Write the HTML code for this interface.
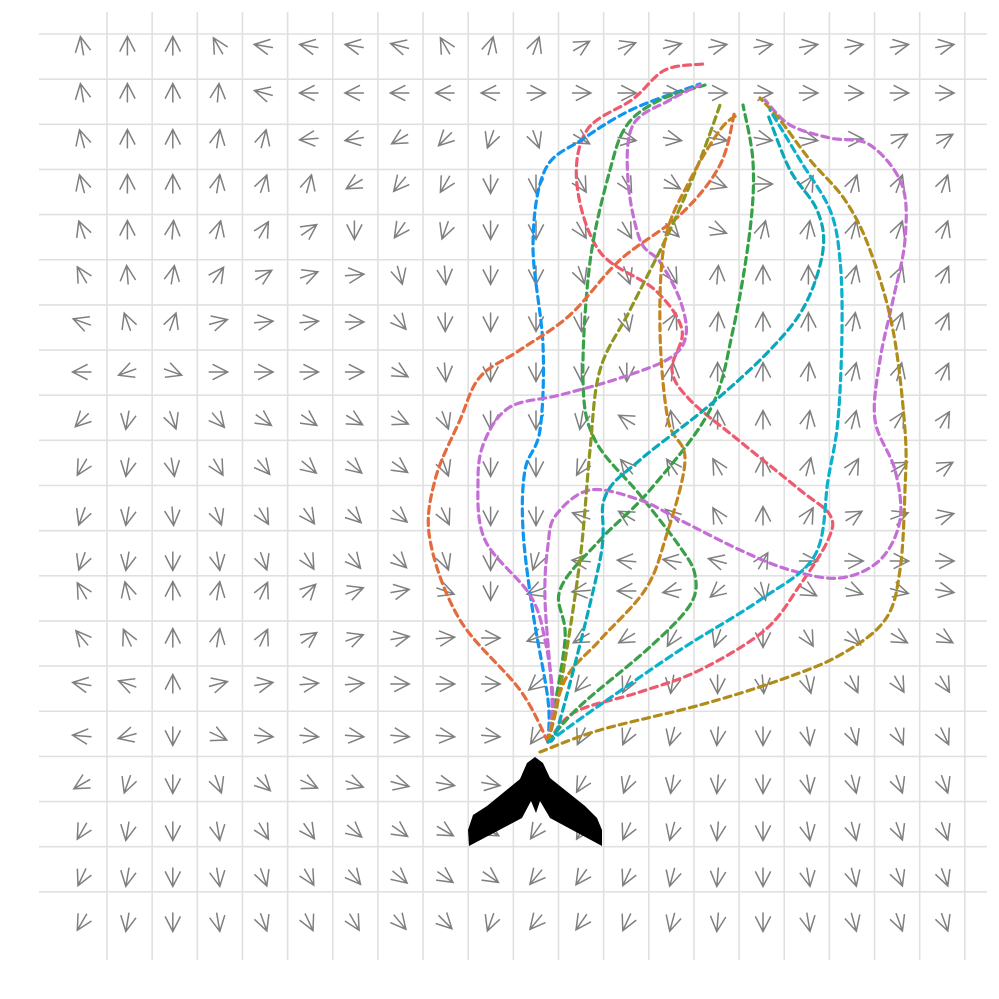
<!DOCTYPE html>
<html><head><meta charset="utf-8"><style>
html,body{margin:0;padding:0;background:#fff;}
svg{display:block;}
</style></head><body>
<svg id="chart" width="999" height="999" viewBox="0 0 999 999" xmlns="http://www.w3.org/2000/svg">
<rect x="0" y="0" width="999" height="999" fill="#fff"/>
<g id="grid"></g>
<g id="arrows"></g>
<g id="paths"></g>
<polygon fill="#000" points="535,757 543,763 550,778 585,806 597,818 602,830 602,846 550,818 540,801 536,813 531,801 522,818 469,846 468,830 473,815 487,806 520,779 527,763"/>
</svg>
<script>
// wind direction (compass degrees, 0 = up) per grid row, 20 columns each
const row0=[350,0,0,330,280,280,280,285,330,15,20,60,70,75,80,80,80,80,80,80];
const row1=[350,0,0,5,285,270,270,270,270,270,90,90,90,90,90,90,90,90,90,90];
const row2=[345,0,0,10,15,265,260,240,225,200,160,120,100,100,100,100,100,90,60,60];
const row3=[345,0,0,10,20,15,240,220,210,180,180,150,150,120,110,90,30,20,20,20];
const row4=[340,0,5,15,30,55,180,215,200,180,180,150,150,135,110,15,10,15,20,20];
const row5=[330,355,10,35,60,70,85,165,175,180,180,160,160,150,5,0,0,15,20,25];
const row6=[290,340,20,75,85,85,90,140,180,180,180,180,165,25,5,0,0,10,20,25];
const row7=[270,250,110,90,90,90,90,120,175,180,180,180,180,5,0,0,5,15,15,25];
const row8=[225,190,160,140,125,125,120,115,160,180,180,190,300,350,0,0,10,15,30,30];
const row9=[210,190,170,150,140,130,130,125,160,180,180,210,320,325,330,0,15,30,60,60];
const row10=[200,190,175,160,150,145,135,130,155,180,180,290,300,315,330,0,30,60,70,75];
const row11=[200,190,180,170,160,150,140,135,160,180,200,275,275,280,285,30,90,90,90,90];
const row12=[330,345,0,10,25,45,70,80,110,180,250,265,270,260,230,165,120,110,105,100];
const row13=[320,335,0,10,25,55,70,80,85,90,250,240,240,210,200,180,150,135,120,120];
const row14=[280,290,0,75,80,85,85,90,90,90,230,220,205,190,180,175,165,155,150,150];
const row15=[275,255,180,115,95,95,95,95,95,95,215,205,205,195,185,180,170,160,155,155];
const row16=[240,200,180,160,135,115,110,105,100,100,215,210,200,190,185,180,170,165,160,160];
const row17=[210,190,180,170,150,145,130,125,120,120,215,210,205,195,185,180,170,165,160,160];
const row18=[205,190,180,170,160,150,140,130,125,125,220,215,205,195,185,180,170,165,160,160];
const row19=[210,190,180,170,160,155,150,140,135,200,220,215,205,195,185,180,170,165,160,160];
const directions=[row0,row1,row2,row3,row4,row5,row6,row7,row8,row9,row10,row11,row12,row13,row14,row15,row16,row17,row18,row19];
const rowCenters=[46,93,139,184,230,275,322,372,420,467,516,561,591,638,684,736,784,831,877,922];

// trajectory point lists [x,y] in plot pixel space
const trajRed=[[548,742],[575,712],[640,692],[700,670],[765,630],[800,585],[828,540],[830,515],[800,490],[737,439],[690,400],[672,370],[682,330],[655,290],[600,252],[577,185],[587,130],[633,99],[665,70],[703,64]];
const trajBlue=[[548,742],[548,700],[533,613],[523,530],[525,470],[540,430],[543,345],[533,245],[545,170],[583,139],[633,109],[700,84]];
const trajGreen1=[[548,742],[565,640],[560,590],[600,540],[650,490],[710,410],[733,330],[750,230],[753,162],[743,105]];
const trajGreen2=[[548,742],[580,706],[650,647],[690,605],[695,575],[680,547],[640,495],[595,440],[583,380],[590,262],[610,170],[627,125],[660,100],[705,85]];
const trajPurple1=[[548,742],[553,700],[545,640],[530,595],[485,540],[478,480],[485,440],[510,407],[560,395],[620,378],[670,358],[686,335],[680,300],[660,262],[640,240],[628,180],[633,125],[670,100],[700,85]];
const trajPurple2=[[548,742],[552,700],[545,600],[548,545],[556,515],[590,490],[640,500],[680,520],[740,550],[790,570],[840,578],[880,560],[900,520],[895,470],[875,420],[880,360],[893,300],[905,240],[902,185],[870,145],[830,138],[790,125],[765,100]];
const trajOrange=[[548,742],[520,690],[460,620],[430,540],[435,480],[460,420],[480,377],[520,350],[570,315],[620,260],[680,215],[720,165],[735,110]];
const trajOlive=[[548,742],[560,690],[580,560],[590,450],[600,370],[630,310],[670,230],[700,160],[720,105]];
const trajBrown=[[548,742],[565,680],[600,640],[645,590],[665,540],[685,460],[668,420],[660,330],[665,240],[690,180],[720,130],[737,115]];
const trajGold=[[540,752],[600,730],[700,705],[780,680],[840,655],[885,620],[900,570],[905,490],[905,430],[893,330],[870,250],[845,200],[810,160],[780,120],[760,98]];
const trajTeal1=[[548,742],[600,705],[680,650],[760,600],[815,555],[828,480],[838,420],[842,330],[840,260],[830,210],[800,160],[770,110]];
const trajTeal2=[[548,742],[560,720],[600,560],[605,497],[640,460],[710,405],[770,350],[805,305],[823,250],[817,210],[790,170],[768,115]];
const trajectories=[trajRed,trajBlue,trajGreen1,trajGreen2,trajPurple1,trajPurple2,trajOrange,trajOlive,trajBrown,trajGold,trajTeal1,trajTeal2];
const trajNames=['trajectory-red','trajectory-blue','trajectory-green-1','trajectory-green-2','trajectory-purple-1','trajectory-purple-2','trajectory-orange','trajectory-olive','trajectory-brown','trajectory-gold','trajectory-teal-1','trajectory-teal-2'];
const trajColors=['#EE5A6E','#0C96F2','#35A046','#3AA04A','#C46ED6','#C46ED6','#E46B3E','#8D961F','#C4841E','#B08C1A','#0AB0CC','#09A8B8'];

const NS='http://www.w3.org/2000/svg';
const colX=i=>82+45.4*i;
const rowY=j=>rowCenters[j];

// grid
const grid=document.getElementById('grid');
for(let k=0;k<20;k++){
  const x=107+45.15*k, y=34+45.15*k;
  const v=document.createElementNS(NS,'line');
  v.setAttribute('x1',x);v.setAttribute('x2',x);v.setAttribute('y1',12);v.setAttribute('y2',960);
  v.setAttribute('stroke','#e0e0e0');v.setAttribute('stroke-width','1.6');
  
  
  grid.appendChild(v);
  const h=document.createElementNS(NS,'line');
  h.setAttribute('x1',39);h.setAttribute('x2',987);h.setAttribute('y1',y);h.setAttribute('y2',y);
  h.setAttribute('stroke','#e0e0e0');h.setAttribute('stroke-width','1.6');
  
  
  grid.appendChild(h);
}

// arrows
const ag=document.getElementById('arrows');
directions.forEach((row,j)=>{
  row.forEach((deg,i)=>{
    const cx=colX(i), cy=rowY(j);
    const a=deg*Math.PI/180, dx=Math.sin(a), dy=-Math.cos(a);
    const L=9.5, H=17, sp=27*Math.PI/180;
    const tx=cx+dx*L, ty=cy+dy*L, bx=cx-dx*L, by=cy-dy*L;
    const w1=[tx-H*(dx*Math.cos(sp)-dy*Math.sin(sp)), ty-H*(dy*Math.cos(sp)+dx*Math.sin(sp))];
    const w2=[tx-H*(dx*Math.cos(sp)+dy*Math.sin(sp)), ty-H*(dy*Math.cos(sp)-dx*Math.sin(sp))];
    const p=document.createElementNS(NS,'path');
    p.setAttribute('d',`M${bx.toFixed(1)},${by.toFixed(1)}L${tx.toFixed(1)},${ty.toFixed(1)}M${w1[0].toFixed(1)},${w1[1].toFixed(1)}L${tx.toFixed(1)},${ty.toFixed(1)}L${w2[0].toFixed(1)},${w2[1].toFixed(1)}`);
    p.setAttribute('fill','none');p.setAttribute('stroke','#7f7f7f');p.setAttribute('stroke-width','1.5');
    
    
    ag.appendChild(p);
  });
});

// trajectories (Catmull-Rom smoothing)
function smooth(pts){
  let d=`M${pts[0][0]},${pts[0][1]}`;
  for(let i=0;i<pts.length-1;i++){
    const p0=pts[i-1]||pts[i], p1=pts[i], p2=pts[i+1], p3=pts[i+2]||p2;
    const c1=[p1[0]+(p2[0]-p0[0])/6, p1[1]+(p2[1]-p0[1])/6];
    const c2=[p2[0]-(p3[0]-p1[0])/6, p2[1]-(p3[1]-p1[1])/6];
    d+=`C${c1[0].toFixed(1)},${c1[1].toFixed(1)} ${c2[0].toFixed(1)},${c2[1].toFixed(1)} ${p2[0]},${p2[1]}`;
  }
  return d;
}
const pg=document.getElementById('paths');
trajectories.forEach((pts,k)=>{
  const p=document.createElementNS(NS,'path');
  p.setAttribute('d',smooth(pts));
  p.setAttribute('fill','none');p.setAttribute('stroke',trajColors[k]);
  p.setAttribute('stroke-width','3.2');p.setAttribute('stroke-dasharray','7 5');p.setAttribute('stroke-linecap','round');
  
  
  pg.appendChild(p);
});
</script>
</body></html>
